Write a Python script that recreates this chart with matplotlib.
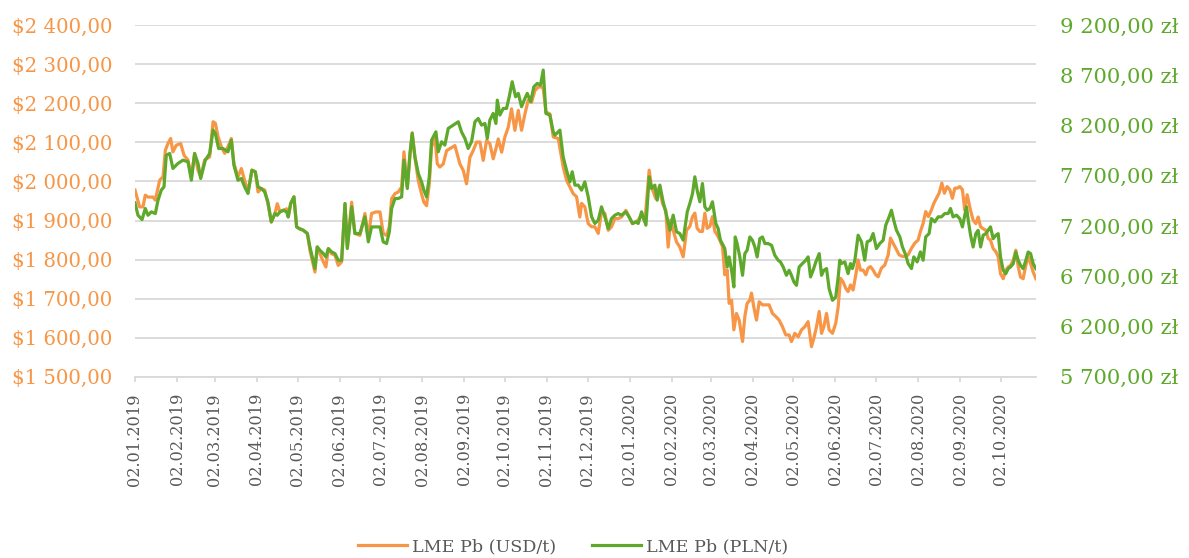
import datetime as dt
import matplotlib
matplotlib.use("Agg")
import matplotlib.pyplot as plt
import matplotlib.dates as mdates
from matplotlib.ticker import FixedLocator, FuncFormatter, MultipleLocator

# ---------------- data ----------------
start_date = "2019-01-02"

# LME Pb in USD/t : day offsets from start_date and prices
usd_day = [0, 3.4, 5.9, 7.6, 9.6, 13.3, 15, 18.2, 20.7, 22.4, 24.3, 26.3, 28, 30.5, 33.7, 36.2, 39.1, 41.6, 44, 46.5,
           48.5, 51.4, 55.1, 57.6, 59.3, 61.3, 63.7, 66.2, 68.6, 71.1, 73, 76, 78.5, 80.9, 83.4, 86.3, 88.8, 90.8, 93.2,
           95.7, 98.1, 100.6,
           103.3, 105, 107, 109.4, 111.9, 113.1, 114.9, 117.3, 119.3, 121.2, 124.2, 127.2, 129.1, 131.1, 132.8, 134.5,
           136.5, 139, 140.9, 142.7, 145.1, 147.6, 150, 152.5, 155, 156.7, 159.9, 162.3, 166, 169.7, 172.2, 174.6, 177.8,
           180.8, 183.2, 185.7, 187.7, 189.4, 191.9, 194.3, 196.8, 198.5, 201, 202.9, 204.6,
           206.6, 209.1, 211.5, 213.2, 215.2, 217.2, 218.9, 221.4, 223.1, 225, 227.5, 230, 232.4, 236.1, 239.8, 242.3,
           244.7, 247.2, 249.6, 252.1, 254.6, 257, 259.5, 261.9, 264.4, 266.4, 268.1, 270.6, 273, 275.5, 277.9, 280.4,
           282.9, 285.3, 287.8, 290.2, 292.7, 295.2, 297.6, 300.1, 301.3, 303.3, 306.2, 308.7,
           312.4, 316, 318.5, 321, 323.4, 325.9, 328.3, 329.6, 332, 334.5, 337, 339.4, 341.9, 344.3, 346.8, 349.3, 351.7,
           354.2, 356.6, 359.1, 362.3, 364.7, 367.2, 369.7, 371.4, 373.9, 376.3, 379.5, 381.2, 384.4, 386.9, 389.3,
           391.8, 393.5, 395.3, 397.2, 399.7, 402.1, 404.6, 407.1,
           409.5, 411.5, 413.2, 414.9, 416.9, 418.8, 420.6, 422.3, 424.3, 426.2, 428, 429.7, 431.6, 433.6, 435.3, 437.1,
           438.5, 440.3, 442, 443.9, 445.9, 448.4, 450.1, 451.8, 453.8, 455, 456.7, 458.7, 460.7, 463.1, 465.6, 468,
           470.5, 473, 475.4, 477.9, 480.3, 482.8, 484.5, 487, 489.5, 491.9, 494.4, 496.8, 499.3, 501, 503, 505, 506.7,
           508.4, 510.4, 512.3, 514.8, 517.2, 519,
           520.7, 522.6, 524.6, 526.3, 528.1, 530, 532, 533.7, 535.4, 537.4, 539.4, 541.1, 542.8, 544.8, 546.7, 548.5,
           550.9, 553.4, 555.9, 557.6, 559.5, 561.5, 564, 566.4, 568.2, 570.6, 573.1, 575.5, 578, 579.7, 581.7, 583.6,
           585.6, 587.8, 589.6, 591.5, 593.5, 595.5, 597.4, 599.4, 601.4, 603.3, 605.1, 607, 608.7, 610.7, 612.4, 614.2,
           616.7, 618.6, 620.6, 622.3, 624.1, 626, 628, 629.7, 631.4, 633.4, 635.4, 637.1, 638.8, 640.8, 642.7, 644.5,
           646.2, 648.2, 650.1, 651.9, 653.6, 655.5, 657.5, 659.2, 661, 662.9, 664.9]
usd_val = [1978, 1935, 1935, 1965, 1960, 1960, 1952, 2003, 2012, 2080, 2097, 2110, 2076, 2093, 2097, 2067, 2055, 2012,
           2072, 2029, 2012, 2055, 2063, 2153, 2149, 2115, 2089, 2072, 2089, 2110, 2046, 2012, 2033, 2003, 1973, 2029,
           2025, 1973, 1982, 1978, 1943, 1896,
           1918, 1943, 1922, 1926, 1930, 1909, 1943, 1961, 1884, 1879, 1875, 1867, 1824, 1794, 1768, 1832, 1815, 1794,
           1781, 1828, 1815, 1811, 1785, 1794, 1943, 1832, 1947, 1867, 1862, 1918, 1858, 1918, 1922, 1922, 1867, 1862,
           1884, 1956, 1969, 1973, 1986, 2076, 1986, 2063, 2125,
           2062, 2002, 1968, 1947, 1938, 1994, 2088, 2114, 2045, 2037, 2045, 2079, 2084, 2092, 2045, 2028, 1994, 2062,
           2079, 2101, 2101, 2054, 2105, 2097, 2058, 2084, 2109, 2075, 2114, 2139, 2186, 2131, 2182, 2131, 2173, 2208,
           2203, 2233, 2242, 2242, 2238, 2178, 2173, 2114,
           2110, 2038, 2003, 1986, 1969, 1961, 1909, 1944, 1935, 1892, 1884, 1884, 1867, 1922, 1918, 1875, 1884, 1905,
           1905, 1909, 1926, 1909, 1892, 1897, 1901, 1914, 1897, 2029, 1986, 1956, 1986, 1944, 1926, 1832, 1901, 1875,
           1845, 1832, 1807, 1875,
           1885, 1910, 1919, 1880, 1872, 1872, 1919, 1880, 1885, 1910, 1872, 1863, 1850, 1833, 1761, 1773, 1688, 1696,
           1620, 1662, 1645, 1590, 1654, 1688, 1696, 1714, 1679, 1645, 1692, 1684, 1684, 1684, 1662, 1654, 1645, 1628,
           1607, 1607, 1590, 1611, 1602, 1620, 1628, 1641, 1577, 1598, 1628, 1667, 1611, 1628, 1662, 1620, 1611, 1637,
           1679,
           1752, 1743, 1726, 1718, 1735, 1722, 1761, 1799, 1773, 1773, 1761, 1778, 1782, 1773, 1761, 1756, 1778, 1786,
           1812, 1855, 1842, 1829, 1812, 1808, 1808, 1812, 1829, 1842, 1850, 1872, 1893, 1923, 1910, 1927, 1944, 1957,
           1970, 1996, 1970, 1987, 1979, 1957, 1983, 1983, 1987, 1979, 1927, 1966,
           1926, 1901, 1892, 1909, 1884, 1879, 1875, 1854, 1850, 1828, 1820, 1807, 1764, 1751, 1773, 1781, 1785, 1798,
           1824, 1781, 1755, 1751, 1785, 1807, 1790, 1768, 1751]

# LME Pb in PLN/t : day offsets from start_date and prices
pln_day = [0, 2.2, 5.2, 7.6, 9.6, 12.1, 15, 17, 19.4, 21.4, 23.1, 25.6, 28, 31.7, 35.4, 39.1, 41.6, 44, 46.5, 48.5,
           51.9, 55.1, 57.6, 59.3, 61.7, 64.9, 68.6, 71.1, 73, 76, 78.5, 80.9, 83.4, 86.3, 88.8, 90.8, 93.2, 95.7, 98.1,
           100.6,
           103.3, 105, 107, 109.4, 111.9, 113.1, 114.9, 117.3, 119.3, 121.2, 124.2, 127.2, 129.1, 131.1, 132.8, 134.5,
           136.5, 139, 140.9, 142.7, 145.1, 147.6, 150, 152.5, 155, 156.7, 159.9, 162.3, 166, 169.7, 172.2, 174.6, 177.8,
           180.8, 183.2, 185.7, 187.7, 189.4, 191.9, 194.3, 196.8, 198.5, 201, 202.9, 204.6,
           206.6, 209.1, 211.5, 213.2, 215.2, 217.2, 218.9, 222.1, 223.8, 226.3, 228.7, 231.2, 234.9, 238.6, 241, 243.5,
           245.9, 248.4, 250.9, 253.3, 255.8, 258.3, 260, 261.9, 264.4, 266.4, 267.4, 269.3, 271.8, 274.2, 276.2, 278.4,
           280.9, 282.9, 285.3, 287.8, 289.5, 292, 294.4, 296.9, 299.3, 301.3, 303.3, 306.2, 308.7,
           309.9, 313.6, 316, 318.5, 321, 322.7, 324.7, 327.1, 329.6, 332, 334.5, 337, 339.4, 341.9, 344.3, 346.8, 349.3,
           351.7, 354.2, 356.6, 359.1, 362.3, 364.7, 367.2, 369.7, 371.4, 373.9, 377.1, 379.5, 381.2, 383.7, 385.4,
           387.4, 389.8, 392.3, 394.8, 397.2, 399.7, 402.1, 404.6, 407.6,
           409.5, 411.5, 413.2, 414.9, 416.9, 418.8, 420.6, 422.3, 424.3, 426.2, 428.7, 430.4, 432.1, 434.1, 435.3,
           437.1, 438.5, 440.3, 442, 443, 444.4, 446.4, 448.4, 450.1, 451.8, 453.8, 455.7, 457.5, 459.2, 461.2, 463.1,
           464.9, 467.3, 469.8, 472.2, 474.7, 476.4, 478.4, 480.8, 482.8, 484.5, 486.3, 488.2, 490.2, 492.6, 495.1,
           496.8, 498.6, 500.5, 502.5, 505, 506.7, 508.4, 510.4, 512.3, 514.8, 517.2, 519, 520.2,
           521.4, 523.9, 526.3, 528.1, 529.5, 531.3, 533.7, 536.2, 538.6, 540.4, 542.8, 544.8, 547.2, 549.7, 552.2,
           554.1, 556.6, 558.3, 560, 562, 564.5, 566.4, 568.9, 570.6, 573.1, 574.8, 577.3, 579.7, 581.7, 583.6, 586.1,
           587.8, 590.3, 592.8, 595.2, 597.7, 600.1, 601.9, 603.8, 606.3, 608.7, 610.7, 613.7,
           615, 616.7, 618.6, 620.6, 622.3, 624.1, 626, 628, 629.7, 631.4, 633.4, 635.4, 637.1, 638.8, 640.8, 642.7,
           644.5, 646.2, 648.2, 650.1, 651.9, 653.6, 655.5, 657.5, 659.2, 661, 662.9, 664.9]
pln_val = [7432, 7308, 7265, 7375, 7308, 7342, 7325, 7458, 7558, 7591, 7907, 7923, 7774, 7824, 7857, 7840, 7657, 7923,
           7824, 7674, 7857, 7923, 8156, 8123, 7973, 7973, 7940, 8056, 7807, 7657, 7674, 7591, 7525, 7757, 7740, 7591,
           7574, 7541, 7441, 7242,
           7325, 7308, 7342, 7358, 7342, 7292, 7425, 7491, 7192, 7176, 7159, 7126, 6993, 6876, 6777, 6993, 6959, 6926,
           6893, 6976, 6943, 6926, 6860, 6860, 7425, 6976, 7392, 7126, 7126, 7292, 7043, 7192, 7192, 7192, 7043, 7026,
           7142, 7375, 7475, 7475, 7491, 7857, 7574, 7923, 8123,
           7890, 7724, 7641, 7558, 7491, 7691, 8056, 8139, 7940, 8040, 8007, 8173, 8206, 8239, 8139, 8073, 7973, 8040,
           8239, 8272, 8206, 8222, 8073, 8256, 8322, 8222, 8455, 8306, 8372, 8372, 8488, 8638, 8488, 8522, 8389, 8472,
           8522, 8439, 8588, 8621, 8605, 8754, 8322, 8306, 8139,
           8106, 8156, 7890, 7757, 7641, 7741, 7608, 7608, 7558, 7641, 7491, 7292, 7226, 7259, 7392, 7292, 7176, 7275,
           7309, 7325, 7309, 7342, 7292, 7226, 7242, 7226, 7342, 7209, 7691, 7575, 7608, 7458, 7608, 7442, 7309, 7159,
           7309, 7143, 7126, 7060, 7342,
           7425, 7525, 7691, 7558, 7442, 7624, 7392, 7358, 7375, 7442, 7225, 7176, 7059, 7009, 6976, 6793, 6893, 6760,
           6594, 7092, 7026, 6893, 6710, 6926, 6960, 7092, 7059, 6993, 6893, 7076, 7092, 7026, 7026, 7009, 6910, 6860,
           6843, 6793, 6710, 6760, 6710, 6644, 6610, 6793, 6827, 6860, 6893, 6694, 6760, 6843, 6926, 6710, 6760, 6777,
           6577, 6461, 6494, 6694, 6860,
           6827, 6843, 6727, 6827, 6777, 6860, 7109, 7043, 6860, 7043, 7059, 7126, 6976, 7026, 7059, 7209, 7292, 7358,
           7259, 7159, 7092, 6993, 6910, 6827, 6777, 6893, 6843, 6943, 6860, 7092, 7126, 7275, 7242, 7292, 7292, 7325,
           7325, 7375, 7292, 7309, 7275, 7192, 7392,
           7258, 7109, 6992, 7125, 7158, 6992, 7109, 7125, 7158, 7192, 7075, 7109, 7125, 6893, 6760, 6726, 6776, 6793,
           6826, 6942, 6859, 6809, 6776, 6859, 6942, 6926, 6826, 6776]

tick_labels = ["02.01.2019", "02.02.2019", "02.03.2019", "02.04.2019", "02.05.2019", "02.06.2019", "02.07.2019",
               "02.08.2019", "02.09.2019", "02.10.2019", "02.11.2019", "02.12.2019", "02.01.2020", "02.02.2020",
               "02.03.2020", "02.04.2020", "02.05.2020", "02.06.2020", "02.07.2020", "02.08.2020", "02.09.2020",
               "02.10.2020"]

usd_ticks = [1500, 1600, 1700, 1800, 1900, 2000, 2100, 2200, 2300, 2400]
pln_ticks = [5700, 6200, 6700, 7200, 7700, 8200, 8700, 9200]

series_names = ["LME Pb (USD/t)", "LME Pb (PLN/t)"]

# ---------------- styling ----------------
ORANGE = "#F79646"
GREEN = "#5EA92B"
GRAY_TXT = "#595959"
GRID = "#D9D9D9"

plt.rcParams["font.family"] = ["DejaVu Serif"]

fig = plt.figure(figsize=(11.89, 5.58), dpi=100)
ax = fig.add_axes([135 / 1189, 1 - 376.7 / 558, (1036 - 135) / 1189, (376.7 - 25.3) / 558])
ax2 = ax.twinx()

t0 = mdates.date2num(dt.datetime.strptime(start_date, "%Y-%m-%d"))
ux = [t0 + d for d in usd_day]
px = [t0 + d for d in pln_day]

l1, = ax.plot(ux, usd_val, color=ORANGE, lw=2.3, solid_joinstyle="round", zorder=3)
l2, = ax2.plot(px, pln_val, color=GREEN, lw=2.3, solid_joinstyle="round", zorder=3)

ax.set_xlim(t0, t0 + 665)
ax.set_ylim(usd_ticks[0], usd_ticks[-1])
ax2.set_ylim(pln_ticks[0], pln_ticks[-1])

ax.yaxis.set_major_locator(FixedLocator(usd_ticks))
ax2.yaxis.set_major_locator(FixedLocator(pln_ticks))


def fmt_usd(v, pos):
    s = f"{v:,.2f}".replace(",", " ").replace(".", ",")
    return "$" + s


def fmt_pln(v, pos):
    s = f"{v:,.2f}".replace(",", " ").replace(".", ",")
    return s + " zł"


ax.yaxis.set_major_formatter(FuncFormatter(fmt_usd))
ax2.yaxis.set_major_formatter(FuncFormatter(fmt_pln))

tick_pos = [mdates.date2num(dt.datetime.strptime(s, "%d.%m.%Y")) for s in tick_labels]
ax.xaxis.set_major_locator(FixedLocator(tick_pos))
ax.set_xticklabels(tick_labels)

ax.grid(axis="y", color=GRID, lw=1.3)
ax.set_axisbelow(True)

for s in ["left", "right", "top"]:
    ax.spines[s].set_visible(False)
for s in ["left", "right", "top", "bottom"]:
    ax2.spines[s].set_visible(False)
ax.spines["bottom"].set_color(GRID)
ax.spines["bottom"].set_linewidth(1.3)

ax.tick_params(axis="y", length=0, pad=16.5, labelcolor=ORANGE, labelsize=14.2)
ax2.tick_params(axis="y", length=0, pad=17, labelcolor=GREEN, labelsize=15.2)
ax.tick_params(axis="x", length=3.8, width=1.3, color=GRID, pad=8, labelrotation=90,
               labelcolor=GRAY_TXT, labelsize=11.6)

fig.legend([l1, l2], series_names, loc="center", bbox_to_anchor=(0.482, 0.02), ncol=2, frameon=False,
           handlelength=2.8, handletextpad=0.3, columnspacing=2.0, fontsize=12.6, labelcolor=GRAY_TXT)

fig.savefig("out.png", dpi=100)
